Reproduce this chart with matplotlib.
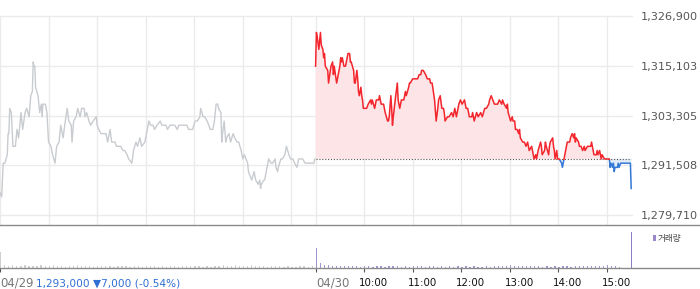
import numpy as np
import matplotlib
matplotlib.use("Agg")
import matplotlib.pyplot as plt
import matplotlib.transforms as mtransforms
from matplotlib.lines import Line2D
from matplotlib.patches import Rectangle

plt.rcParams['font.family'] = ['DejaVu Sans', 'Noto Sans CJK KR']

# ---------------- data ----------------
session_minutes = 390            # 09:00 - 15:30
prev_close = 1293000
y_tick_values = [1279710, 1291508, 1303305, 1315103, 1326900]
y_tick_labels = ['1,279,710', '1,291,508', '1,303,305', '1,315,103', '1,326,900']

# 04/29 (minutes after 09:00, price in thousand won)
day1_min = [0, 2, 4, 6, 9, 10, 11, 12, 14, 16,
            19, 21, 23, 26, 28, 31, 33, 36, 38, 40,
            41, 42, 43, 44, 47, 49, 51, 52, 53, 56,
            58, 60, 63, 65, 68, 70, 73, 75, 78, 80,
            83, 85, 88, 89, 91, 94, 96, 99, 101, 104,
            105, 107, 110, 112, 115, 119, 120, 122, 125, 127,
            131, 133, 136, 138, 142, 144, 147, 149, 152, 154,
            157, 159, 163, 165, 168, 170, 173, 175, 179, 181,
            184, 186, 189, 191, 194, 198, 200, 202, 205, 207,
            210, 212, 216, 219, 221, 223, 226, 228, 231, 233,
            236, 238, 241, 244, 247, 248, 251, 253, 256, 258,
            260, 263, 265, 267, 269, 270, 273, 274, 275, 277,
            279, 280, 283, 285, 288, 290, 293, 295, 298, 300,
            302, 304, 306, 307, 309, 311, 314, 316, 319, 321,
            322, 323, 326, 327, 330, 332, 335, 337, 340, 341,
            343, 344, 347, 349, 352, 354, 357, 359, 362, 364,
            367, 369, 372, 374, 377, 380, 384, 388, 389]
day1_price_k = [1285, 1284, 1292, 1292, 1294, 1299, 1299, 1305, 1304, 1296,
                1296, 1300, 1298, 1304, 1300, 1304, 1305, 1303, 1308, 1309,
                1316, 1315, 1315, 1310, 1308, 1304, 1306, 1303, 1306, 1306,
                1304, 1297, 1296, 1294, 1292, 1296, 1297, 1301, 1298, 1301,
                1305, 1302, 1301, 1297, 1302, 1303, 1305, 1303, 1305, 1305,
                1303, 1304, 1302, 1301, 1302, 1303, 1301, 1300, 1299, 1299,
                1299, 1297, 1300, 1297, 1297, 1296, 1296, 1296, 1295, 1295,
                1294, 1293, 1292, 1295, 1297, 1296, 1298, 1296, 1297, 1299,
                1302, 1301, 1301, 1300, 1301, 1302, 1301, 1301, 1301, 1300,
                1301, 1301, 1301, 1300, 1301, 1301, 1301, 1301, 1301, 1300,
                1300, 1300, 1302, 1302, 1303, 1305, 1303, 1303, 1302, 1301,
                1300, 1300, 1302, 1306, 1306, 1305, 1304, 1297, 1299, 1302,
                1297, 1298, 1299, 1297, 1299, 1298, 1297, 1297, 1295, 1293,
                1294, 1293, 1292, 1290, 1289, 1288, 1290, 1288, 1287, 1288,
                1286, 1287, 1288, 1288, 1291, 1293, 1292, 1292, 1293, 1291,
                1290, 1291, 1293, 1293, 1294, 1296, 1294, 1293, 1293, 1292,
                1291, 1293, 1293, 1293, 1292, 1292, 1292, 1292, 1293]

# 04/30
day2_min = [0, 1, 2, 4, 5, 6, 7, 9, 10, 11,
            12, 15, 16, 19, 21, 22, 23, 26, 28, 30,
            31, 32, 33, 35, 37, 38, 40, 42, 43, 44,
            47, 48, 49, 51, 52, 53, 54, 56, 57, 58,
            59, 62, 63, 65, 68, 69, 70, 73, 75, 78,
            79, 81, 84, 86, 89, 90, 91, 93, 94, 95,
            96, 99, 101, 102, 104, 106, 109, 111, 112, 115,
            116, 117, 120, 122, 123, 126, 128, 130, 131, 133,
            136, 138, 141, 142, 144, 147, 149, 151, 152, 154,
            156, 158, 159, 160, 163, 165, 168, 170, 172, 174,
            177, 179, 181, 184, 186, 188, 190, 193, 194, 196,
            199, 201, 204, 206, 209, 211, 214, 215, 217, 219,
            221, 223, 225, 227, 230, 231, 233, 236, 237, 238,
            241, 243, 244, 246, 247, 249, 251, 252, 253, 256,
            258, 260, 262, 264, 267, 269, 270, 272, 273, 275,
            278, 279, 280, 283, 284, 285, 288, 289, 290, 293,
            294, 295, 296, 298, 299, 301, 304, 305, 306, 307,
            310, 311, 314, 315, 317, 319, 320, 321, 322, 325,
            326, 328, 330, 332, 333, 336, 338, 340, 341, 342,
            343, 344, 347, 348, 349, 351, 353, 354, 357, 359,
            361, 362, 363, 364, 365, 367, 368, 369, 370, 372,
            373, 374, 375, 377, 378, 381, 386, 389, 390]
day2_price_k = [1315, 1323, 1322, 1319, 1321, 1323, 1320, 1319, 1317, 1318,
                1315, 1314, 1311, 1315, 1316, 1313, 1315, 1311, 1313, 1315,
                1317, 1316, 1317, 1315, 1315, 1316, 1318, 1318, 1316, 1316,
                1314, 1311, 1311, 1314, 1312, 1309, 1308, 1310, 1308, 1307,
                1305, 1305, 1305, 1306, 1307, 1306, 1307, 1305, 1307, 1307,
                1308, 1306, 1306, 1304, 1302, 1302, 1303, 1308, 1305, 1301,
                1303, 1308, 1311, 1307, 1305, 1307, 1307, 1309, 1308, 1310,
                1311, 1311, 1312, 1312, 1312, 1312, 1313, 1313, 1314, 1314,
                1313, 1312, 1312, 1311, 1311, 1307, 1302, 1305, 1307, 1308,
                1305, 1305, 1304, 1302, 1303, 1303, 1304, 1303, 1305, 1303,
                1306, 1307, 1306, 1307, 1305, 1305, 1303, 1303, 1304, 1302,
                1304, 1303, 1304, 1303, 1305, 1305, 1306, 1307, 1308, 1307,
                1306, 1306, 1306, 1307, 1306, 1307, 1306, 1305, 1306, 1304,
                1302, 1303, 1302, 1302, 1300, 1300, 1299, 1300, 1298, 1297,
                1297, 1296, 1297, 1295, 1296, 1294, 1293, 1294, 1293, 1295,
                1297, 1296, 1294, 1295, 1297, 1296, 1294, 1296, 1297, 1298,
                1296, 1295, 1293, 1295, 1293, 1293, 1292, 1291, 1292, 1293,
                1296, 1297, 1297, 1298, 1299, 1298, 1299, 1297, 1298, 1297,
                1296, 1296, 1295, 1296, 1295, 1296, 1296, 1296, 1297, 1296,
                1295, 1294, 1294, 1295, 1294, 1295, 1293, 1294, 1293, 1293,
                1293, 1293, 1293, 1291, 1292, 1291, 1292, 1290, 1291, 1291,
                1291, 1292, 1291, 1292, 1292, 1292, 1292, 1292, 1286]

# volume per 5-minute slot (thousand shares)
day1_vol_k = [16, 3, 2, 3, 2, 2, 3, 2, 2, 2, 3, 2, 2,
              3, 2, 2, 1, 2, 2, 3, 2, 2, 2, 1, 2, 2,
              2, 2, 1, 2, 2, 2, 1, 2, 2, 1, 2, 2, 2,
              1, 2, 1, 2, 2, 1, 2, 2, 2, 2, 2, 1, 2,
              1, 2, 2, 3, 2, 2, 3, 2, 2, 2, 3, 2, 2,
              2, 1, 2, 2, 2, 1, 2, 1, 1, 2, 2, 1, 2]
day2_vol_k = [20, 5, 3, 3, 2.5, 2.5, 2, 2, 2, 2, 2, 1.5, 2,
              2, 1.5, 2, 2, 1.5, 2, 2, 2, 1.5, 2, 1, 2, 2,
              2, 1.5, 2, 2, 1, 2, 1.5, 2, 1, 2, 1.5, 2, 1,
              2, 1.5, 1, 2, 1, 2, 2, 2.5, 2.5, 3, 2.5, 2.5, 2,
              2.5, 2, 2, 2, 1.5, 2, 1, 2, 1.5, 2, 2, 1, 2,
              2, 2, 2.5, 2, 2, 2.5, 2.5, 3, 2.5, 2, 1.5, 0, 0]
day2_close_vol_k = 36

date_labels = ['04/29', '04/30']
hour_labels = ['10:00', '11:00', '12:00', '13:00', '14:00', '15:00']
change_text = '1,293,000 \u25bc7,000 (-0.54%)'
legend_label = '거래량'

# ---------------- figure ----------------
W, H = 700, 289
fig = plt.figure(figsize=(W / 100, H / 100), dpi=100)
fig.patch.set_facecolor('white')

def px_rect(x0, y0, x1, y1):
    return [x0 / W, 1 - y1 / H, (x1 - x0) / W, (y1 - y0) / H]

ax = fig.add_axes(px_rect(0, 16, 632, 225))
axv = fig.add_axes(px_rect(0, 225, 632, 268))

xmax = 2 * session_minutes + 1
for a in (ax, axv):
    a.set_xlim(0, xmax)
    for s in a.spines.values():
        s.set_visible(False)
    a.set_facecolor('none')

# price axis scaling: top grid at axes top, bottom grid 10px above axes bottom
ytop, ybot_grid = y_tick_values[-1], y_tick_values[0]
per_px = (ytop - ybot_grid) / 199.0
ax.set_ylim(ybot_grid - 10 * per_px, ytop)

grid_c = '#ebebeb'
for v in y_tick_values:
    ax.axhline(v, color=grid_c, lw=1.0, zorder=0, clip_on=False)
vgrid = [0] + [h * 60 for h in range(1, 7)] + [session_minutes] + \
        [session_minutes + h * 60 for h in range(1, 7)]
for t in vgrid:
    ax.axvline(t, color=grid_c, lw=1.0, zorder=0)

ax.set_yticks(y_tick_values)
ax.set_yticklabels(y_tick_labels)
ax.yaxis.tick_right()
ax.tick_params(axis='y', length=0, pad=6, labelsize=8.1, labelcolor='#555555')
ax.set_xticks([])

# day 1 line
t1 = np.array(day1_min)
p1 = np.array(day1_price_k) * 1000
ax.plot(t1, p1, color='#c8cbcf', lw=1.0, zorder=3)

# day 2
t2 = session_minutes + np.array(day2_min)
p2 = np.array(day2_price_k) * 1000
ax.fill_between(t2, p2, prev_close, where=p2 >= prev_close, interpolate=True,
                color='#fde4e6', lw=0, zorder=1)
ax.fill_between(t2, p2, prev_close, where=p2 <= prev_close, interpolate=True,
                color='#e2ebf8', lw=0, zorder=1)
ax.hlines(prev_close, session_minutes, 2 * session_minutes, colors='#555555',
          linestyles=(0, (1, 1.6)), lw=0.8, zorder=2)

cut = prev_close - 150
red_line, = ax.plot(t2, p2, color='#f3262d', lw=1.1, zorder=4)
red_line.set_clip_path(Rectangle((0, cut), 10000, 1e7, transform=ax.transData))
blue_line, = ax.plot(t2, p2, color='#3478d6', lw=1.1, zorder=4)
blue_line.set_clip_path(Rectangle((0, 0), 10000, cut, transform=ax.transData))

# volume
slot = 5
v1_t = np.arange(len(day1_vol_k)) * slot
v2_t = session_minutes + np.arange(len(day2_vol_k)) * slot
axv.bar(v1_t, day1_vol_k, width=1.6, align='edge', color='#cfcfcf', lw=0)
axv.bar(v2_t, day2_vol_k, width=1.6, align='edge', color='#a594d3', lw=0)
axv.bar([2 * session_minutes], [day2_close_vol_k], width=1.3, color='#8f7dc8', lw=0)
axv.set_ylim(0, day2_close_vol_k * 43 / 36.0)
axv.set_yticks([])

tick_pos = [0, session_minutes] + [session_minutes + h * 60 for h in range(1, 7)]
axv.set_xticks(tick_pos)
axv.tick_params(axis='x', direction='out', length=3, width=0.8, color='#555555',
                labelbottom=False)

# separator and baseline across the full width
for ypx, col in ((225, '#8a8a8a'), (268, '#8a8a8a')):
    fig.add_artist(Line2D([0, 1], [1 - ypx / H] * 2, transform=fig.transFigure,
                          color=col, lw=1.0))

# bottom labels
base = mtransforms.blended_transform_factory(axv.transData, axv.transAxes)
def lab(x, text, dx, color, size=7.6):
    tr = mtransforms.offset_copy(base, fig=fig, x=dx, y=-15, units='dots')
    axv.text(x, 0, text, transform=tr, ha='left', va='center', fontsize=size,
             color=color, clip_on=False)

lab(0, date_labels[0], 0, '#777777', 8.4)
lab(0, change_text, 35.5, '#2f6fd3')
lab(session_minutes, date_labels[1], 1, '#777777', 8.4)
for i, h in enumerate(hour_labels):
    lab(session_minutes + (i + 1) * 60, h, -5, '#111111', 7.4)

# legend
fig.add_artist(Rectangle((653 / W, 1 - 241 / H), 2.6 / W, 6.5 / H,
                         transform=fig.transFigure, color='#9a88cc', lw=0))
fig.text(658 / W, 1 - 238 / H, legend_label, ha='left', va='center',
         fontsize=6.2, color='#444444', family=['Noto Sans CJK KR', 'DejaVu Sans'])

fig.savefig('out.png', dpi=100, facecolor='white')
